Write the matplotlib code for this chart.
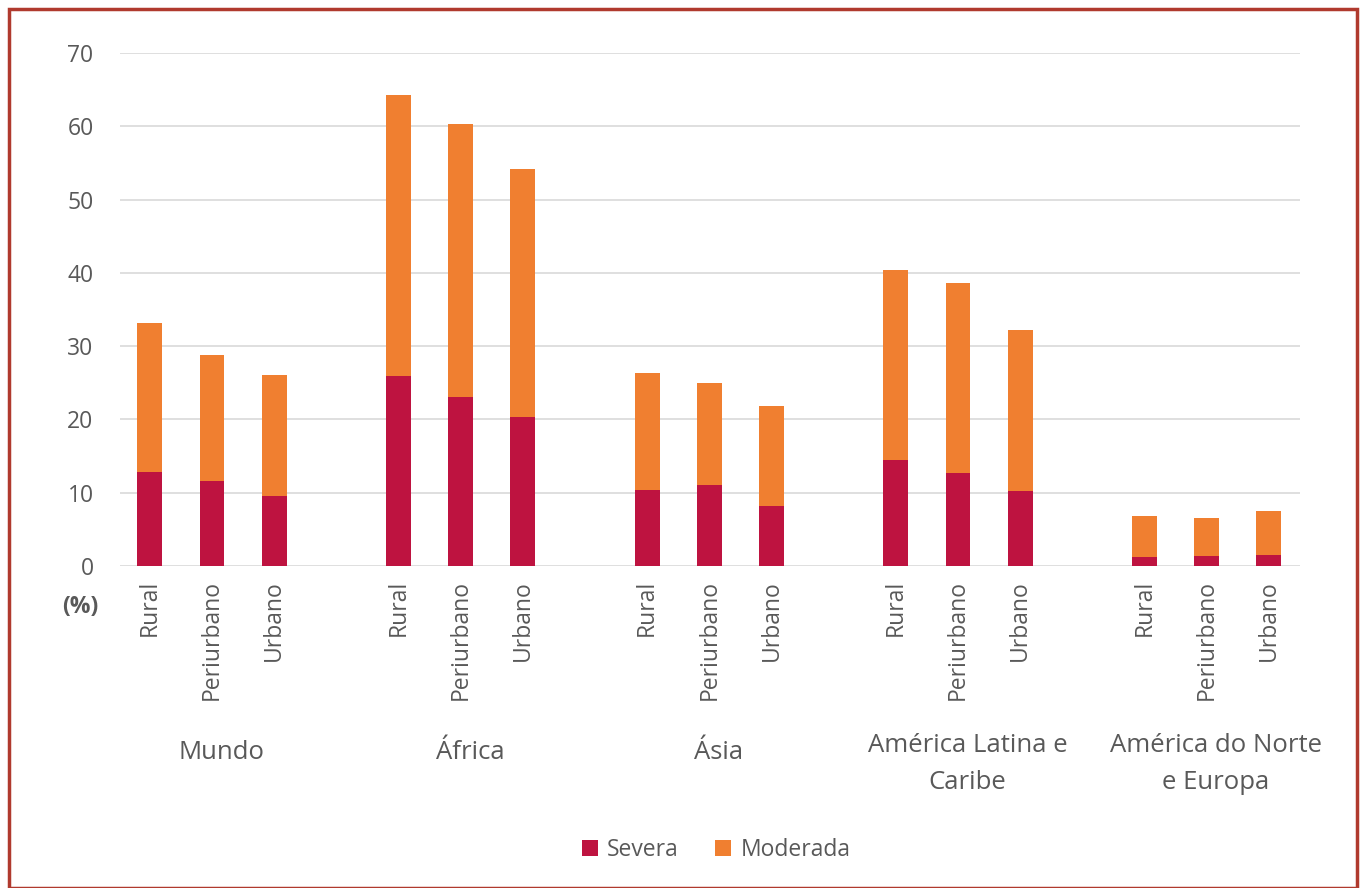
import matplotlib.pyplot as plt
from matplotlib.patches import Rectangle
import numpy as np

plt.rcParams['font.family'] = ['Open Sans', 'DejaVu Sans']

# dados
regioes = ['Mundo', 'África', 'Ásia', 'América Latina e\nCaribe', 'América do Norte\ne Europa']
areas = ['Rural', 'Periurbano', 'Urbano']
severa = [12.8, 11.6, 9.5,
          25.9, 23.1, 20.3,
          10.4, 11.1, 8.2,
          14.5, 12.7, 10.2,
          1.2, 1.4, 1.5]
moderada = [20.4, 17.2, 16.6,
            38.4, 37.2, 33.9,
            15.9, 13.9, 13.6,
            25.9, 25.9, 22.0,
            5.6, 5.1, 6.0]

cor_sev = '#BE1340'
cor_mod = '#F07F30'
cinza = '#595959'

fig = plt.figure(figsize=(13.65, 8.88), dpi=100)
ax = fig.add_axes([120/1365, 1 - 566/888, 1180/1365, 513/888])

x = []
for g in range(len(regioes)):
    for i in range(len(areas)):
        x.append(g * 4 + i)
x = np.array(x)

ax.bar(x, severa, width=0.4, color=cor_sev, label='Severa', zorder=3)
ax.bar(x, moderada, width=0.4, bottom=severa, color=cor_mod, label='Moderada', zorder=3)

ax.set_xlim(-0.48, 18.5)
ax.set_ylim(0, 70)
ax.set_yticks(range(0, 71, 10))
ax.yaxis.grid(True, color='#D9D9D9', linewidth=1.2, zorder=0)
for s in ax.spines.values():
    s.set_visible(False)
ax.tick_params(axis='both', length=0, colors=cinza, labelsize=16.5)
ax.tick_params(axis='y', pad=19)
ax.set_xticks(x)
ax.set_xticklabels(areas * len(regioes), rotation=90, va='top', ha='center')
ax.tick_params(axis='x', pad=10)

# nomes das regiões
for g, nome in enumerate(regioes):
    xd = ax.transData.transform((g * 4 + 1.15, 0))[0] / 1365
    yd = 1 - 764/888 if '\n' in nome else 1 - 752/888
    fig.text(xd, yd, nome, ha='center', va='center', fontsize=18.5,
             color=cinza, linespacing=1.6)

fig.text(80/1365, 1 - 607/888, '(%)', ha='center', va='center', fontsize=16.5,
         fontweight='bold', color=cinza)

fig.legend(loc='center', bbox_to_anchor=(716/1365, 1 - 850/888), ncol=2, frameon=False,
           fontsize=16.5, handlelength=0.7, handleheight=0.7, columnspacing=1.6,
           handletextpad=0.4, labelcolor=cinza)

# moldura
fig.patches.append(Rectangle((9/1365, 0), 1348/1365, 879/888, transform=fig.transFigure,
                             fill=False, edgecolor='#B03A2E', linewidth=2.5))

plt.savefig('out.png', dpi=100)
plt.close()
